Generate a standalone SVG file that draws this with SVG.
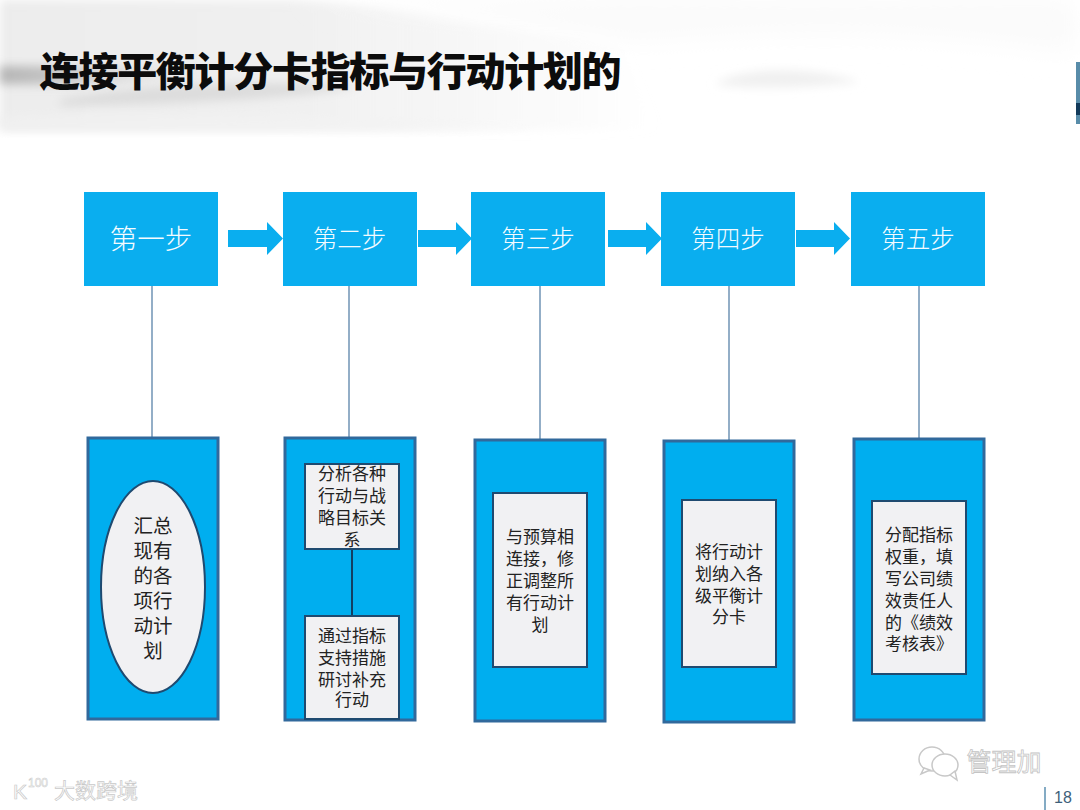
<svg xmlns="http://www.w3.org/2000/svg" width="1080" height="810" viewBox="0 0 1080 810">
<style>
text{font-family:"Liberation Sans","Noto Sans CJK SC",sans-serif;text-anchor:middle}
.step{fill:#0aaeef}
.stepT{fill:#f4fbff;font-size:24.500px;font-weight:300;font-family:"Noto Sans CJK SC",sans-serif}
.arrow{fill:#0aaeef}
.panel{fill:#00aeef;stroke:#31699c;stroke-width:3}
.inner{fill:#f1f1f3;stroke:#1f4a70;stroke-width:2}
.t{fill:#222;font-size:17px}
.big{fill:#222;font-size:19.500px}
.link{stroke:#6f93b5;stroke-width:1.500;fill:none}
.mark{fill:#fff;stroke:#c4c4c4;stroke-width:.8;font-size:25px}
</style>
<defs>
<filter id="b1" x="-20%" y="-60%" width="140%" height="220%"><feGaussianBlur stdDeviation="14"/></filter>
<filter id="b2" x="-20%" y="-60%" width="140%" height="220%"><feGaussianBlur stdDeviation="5"/></filter>
<linearGradient id="wash" x1="0" y1="0" x2="1" y2="0"><stop offset="0" stop-color="#ececec"/><stop offset=".45" stop-color="#f0f0f0"/><stop offset="1" stop-color="#f0f0f0" stop-opacity="0"/></linearGradient>
<linearGradient id="band" x1="0" y1="0" x2="1" y2="0"><stop offset="0" stop-color="#b6b6b6"/><stop offset=".3" stop-color="#c8c8c8"/><stop offset="1" stop-color="#eee" stop-opacity="0"/></linearGradient>
<linearGradient id="low" x1="0" y1="0" x2="1" y2="0"><stop offset="0" stop-color="#f0f0f0"/><stop offset=".7" stop-color="#f3f3f3"/><stop offset="1" stop-color="#f6f6f6" stop-opacity="0"/></linearGradient>
</defs>
<rect width="1080" height="810" fill="#fff"/>
<g id="background">
<path d="M0 0H290C390 4 500 30 620 45L660 130H0Z" fill="url(#wash)" filter="url(#b2)"/>
<path d="M640 40C760 30 900 25 1075 50V0H300C420 5 520 25 640 40Z" fill="#fafafa" filter="url(#b1)"/>
<path d="M0 66H230C200 82 100 86 0 84Z" fill="url(#band)" filter="url(#b2)"/>
<path d="M60 100C130 84 260 80 360 86C300 100 160 104 60 106Z" fill="#dcdcdc" filter="url(#b2)"/>
<path d="M0 116C150 112 400 116 570 130H0Z" fill="url(#low)" filter="url(#b2)"/>
<path d="M715 84C745 66 810 66 860 82C810 88 750 90 715 84Z" fill="#f0f0f0" filter="url(#b2)"/>
<rect x="1076" y="62" width="4" height="62" fill="#2e6f94" opacity=".8"/>
<rect x="1076" y="103" width="4" height="12" fill="#123a5a"/>
</g>
<g id="title"><text x="330" y="86" style="font-family:'Noto Sans CJK SC',sans-serif;font-size:40px;font-weight:900;fill:#0c0c0c;letter-spacing:-1.300px">连接平衡计分卡指标与行动计划的</text></g>
<g id="connectors">
<line class="link" x1="152" y1="286" x2="152" y2="438"/>
<line class="link" x1="349" y1="286" x2="349" y2="438"/>
<line class="link" x1="540" y1="286" x2="540" y2="440"/>
<line class="link" x1="729" y1="286" x2="729" y2="441"/>
<line class="link" x1="919" y1="286" x2="919" y2="439"/>
<path class="arrow" d="M228 230H267V222L283 238.500L267 255V247H228Z"/>
<path class="arrow" d="M418 230H456V222L472 238.500L456 255V247H418Z"/>
<path class="arrow" d="M608 230H646V222L662 238.500L646 255V247H608Z"/>
<path class="arrow" d="M796 230H834V222L850 238.500L834 255V247H796Z"/>
</g>
<g id="step1"><rect class="step" x="84" y="192" width="134" height="94"/><text class="stepT" x="151" y="249" style="font-size:27.500px">第一步</text></g>
<g id="step2"><rect class="step" x="283" y="192" width="134" height="94"/><text class="stepT" x="349.500" y="248">第二步</text></g>
<g id="step3"><rect class="step" x="471" y="192" width="134" height="94"/><text class="stepT" x="538" y="248">第三步</text></g>
<g id="step4"><rect class="step" x="661" y="192" width="134" height="94"/><text class="stepT" x="728" y="248">第四步</text></g>
<g id="step5"><rect class="step" x="851" y="192" width="134" height="94"/><text class="stepT" x="918" y="248">第五步</text></g>
<g id="detail1"><rect class="panel" x="88" y="438" width="130" height="281"/><ellipse class="inner" cx="153" cy="587" rx="52" ry="106"/>
<text class="big"><tspan x="153" y="533">汇总</tspan><tspan x="153" y="558">现有</tspan><tspan x="153" y="583">的各</tspan><tspan x="153" y="608">项行</tspan><tspan x="153" y="633">动计</tspan><tspan x="153" y="658">划</tspan></text></g>
<g id="detail2"><rect class="panel" x="285" y="438" width="130" height="282"/>
<line x1="352" y1="549" x2="352" y2="616" stroke="#123f63" stroke-width="2"/>
<rect class="inner" x="305" y="464" width="94" height="85"/>
<text class="t"><tspan x="352" y="480">分析各种</tspan><tspan x="352" y="502">行动与战</tspan><tspan x="352" y="524">略目标关</tspan><tspan x="352" y="546">系</tspan></text>
<rect class="inner" x="305" y="616" width="94" height="103"/>
<text class="t"><tspan x="352" y="642">通过指标</tspan><tspan x="352" y="664">支持措施</tspan><tspan x="352" y="686">研讨补充</tspan><tspan x="352" y="706">行动</tspan></text></g>
<g id="detail3"><rect class="panel" x="475" y="440" width="130" height="281"/><rect class="inner" x="493" y="493" width="94" height="174"/>
<text class="t"><tspan x="540" y="543">与预算相</tspan><tspan x="540" y="565">连接，修</tspan><tspan x="540" y="587">正调整所</tspan><tspan x="540" y="609">有行动计</tspan><tspan x="540" y="631">划</tspan></text></g>
<g id="detail4"><rect class="panel" x="664" y="441" width="130" height="281"/><rect class="inner" x="682" y="500" width="94" height="167"/>
<text class="t"><tspan x="729" y="558">将行动计</tspan><tspan x="729" y="580">划纳入各</tspan><tspan x="729" y="602">级平衡计</tspan><tspan x="729" y="623">分卡</tspan></text></g>
<g id="detail5"><rect class="panel" x="854" y="439" width="130" height="281"/><rect class="inner" x="872" y="501" width="94" height="173"/>
<text class="t"><tspan x="919" y="541">分配指标</tspan><tspan x="919" y="563">权重，填</tspan><tspan x="919" y="585">写公司绩</tspan><tspan x="919" y="607">效责任人</tspan><tspan x="919" y="629">的《绩效</tspan><tspan x="919" y="650">考核表》</tspan></text></g>
<g id="watermarks">
<text class="mark" x="1004" y="771">管理加</text>
<g fill="#fff" stroke="#c8c8c8" stroke-width="1.500"><ellipse cx="932" cy="759" rx="13" ry="12"/><path d="M924 768L921 774L930 770Z"/><ellipse cx="945" cy="765" rx="13" ry="11"/><path d="M950 775L957 780L955 771Z"/></g>
<text x="96" y="798" style="font-size:21px;fill:#fff;stroke:#c9c9c9;stroke-width:.7">大数跨境</text>
<text x="20" y="799" style="font-size:21px;fill:#fff;stroke:#c9c9c9;stroke-width:.7">K</text>
<text x="38" y="787" style="font-size:12px;fill:#fff;stroke:#c9c9c9;stroke-width:.5">100</text>
</g>
<g id="page"><line x1="1045" y1="787" x2="1045" y2="810" stroke="#5b8fb0" stroke-width="1.500"/><text x="1063" y="803" style="font-size:16px;fill:#3e5f7a">18</text></g>
</svg>
